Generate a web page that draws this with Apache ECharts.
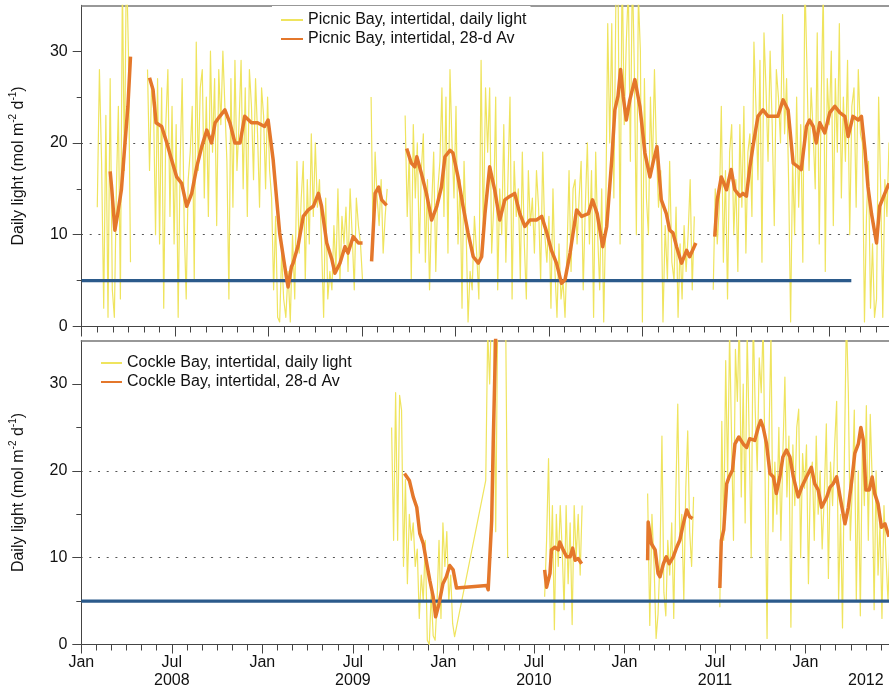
<!DOCTYPE html>
<html><head><meta charset="utf-8">
<script src="https://cdn.jsdelivr.net/npm/echarts@6/dist/echarts.min.js"></script>
<style>html,body{margin:0;padding:0;background:#fff}#c{width:889px;height:689px}</style>
</head><body><div id="c"></div>
<script>
// ---------------- DATA ----------------
const STEP_DAYS = 4; // daily-light samples read every 4 days

// Picnic Bay daily light (segments: start date + values every 4 days)
const picnicDailyStarts = ['2008-02-01','2008-05-08','2009-07-19','2009-09-24','2011-05-18'];
const picnicDailyA = [13,28,18,2,23,1,27,4,1,15,24,3,38,17,40,30,7];
const picnicDailyB = [28,17,26,24,10,27, 9,26,2,22,28,12,24,9, 22,1,18,27,11,3,16,19, 24,5,31,17,26,28,14,
  25,12,30,19,27,11,28,22, 30,24,18,3,27,13,29,17, 22,29,15,26,12,28,24, 16,27,21,13,26,23,15,25,
  17,14,4,12,1,0.5,8,3, 1,6,0.5,10,3,18,8, 14,18,5,16,9,21,12, 20,13,16,9,1,14,3,6,
  4,11,6,15,5,12,9,13, 6,15,10,4,14,11,9, 5];
const picnicDailyC = [25,9,19,14,11,16,8,12,15];
const picnicDailyD = [23,12, 19,5,22,14,20,8,17,21, 7,16,4,13,19,6,15, 18,26,12,25,8,28,20,14,
  24,9,16,2,18,11,0.5,6, 4,12,8,3,29,10,26, 19,26,8,13,25,4,15,10, 22,7,16,25,3,18,12,
  15,5,19,9,3,17,11,14, 8,17,13,5,19,10,7, 12,2,15,6,1,9,3,5, 1,8,17,6,15,16,9,14,
  18,4,13,20,9,17,1, 19,10,4,15,0.5,12,33,20, 33,14,36,38,9,40,22,31, 37,18,39,28,10,36,30,
  0.5,27,14,10,25,17,28,19, 13,17,0.5,11,5,18,7, 5,13,1,9,3,11,6,10, 16,4,12];
const picnicDailyE = [4,15,9,13, 24,7,17,3,19,22,10, 16,6,22,13,24,8,19,21, 12,31,24,16,29,7,32,26,
  18,30,22,11,28,25,20, 34,21,27,16,0.5,18,10,25, 13,22,7,38,28,17,26,21, 15,32,9,25,37,6,27,
  22,30,11,27,19,33,14,25, 18,29,10,24,26,13,28, 21,20,0.5,12,18,2,9,1, 3,25,15,1,16,12,20,14];
const picnicDailyConnect = [false,false,false,false,false];

// Picnic Bay 28-day average (segments of [date, value])
const picnicAvg = [
  [['2008-02-25',16.9],['2008-02-28',15],['2008-03-05',10.5],['2008-03-11',12.4],['2008-03-18',14.9],['2008-03-24',19.2],['2008-03-31',24],['2008-04-05',29.4]],
  [['2008-05-12',27.1],['2008-05-19',25.8],['2008-05-25',22.2],['2008-06-05',21.8],['2008-06-15',20],['2008-06-24',18.2],['2008-07-04',16.3],['2008-07-14',15.6],['2008-07-24',13.1],['2008-08-03',14.5],['2008-08-13',17.4],['2008-08-23',19.6],['2008-09-02',21.4],['2008-09-11',20],['2008-09-18',22.2],['2008-09-27',22.9],['2008-10-07',23.6],['2008-10-17',22.2],['2008-10-27',20],['2008-11-06',20],['2008-11-15',22.9],['2008-11-28',22.2],['2008-12-10',22.2],['2008-12-24',21.8],['2008-12-31',22.5],['2009-01-10',18.2],['2009-01-23',10.2],['2009-02-05',5.4],['2009-02-08',4.3],['2009-02-14',6.5],['2009-02-17',6.9],['2009-02-26',8.8],['2009-03-08',12],['2009-03-18',12.7],['2009-03-28',13.1],['2009-04-07',14.5],['2009-04-13',13.1],['2009-04-23',9.1],['2009-05-03',7.3],['2009-05-09',5.8],['2009-05-19',6.9],['2009-05-29',8.7],['2009-06-04',8],['2009-06-14',9.8],['2009-06-24',9.1],['2009-07-02',9.1]],
  [['2009-07-20',7.1],['2009-07-27',14.5],['2009-08-03',15.2],['2009-08-09',13.8],['2009-08-19',13.2]],
  [['2009-09-27',19.4],['2009-10-06',17.8],['2009-10-13',17.4],['2009-10-17',18.5],['2009-10-26',16.7],['2009-11-05',14.5],['2009-11-15',11.6],['2009-11-25',13.1],['2009-12-04',15.2],['2009-12-11',18.5],['2009-12-21',19.2],['2009-12-27',18.9],['2010-01-06',16.3],['2010-01-16',13.1],['2010-01-26',10.2],['2010-02-05',7.6],['2010-02-14',6.9],['2010-02-20',7.6],['2010-02-26',12.3],['2010-03-07',17.4],['2010-03-17',14.9],['2010-03-27',11.6],['2010-04-06',13.8],['2010-04-16',14.2],['2010-04-25',14.5],['2010-05-05',12.3],['2010-05-15',10.9],['2010-05-25',11.6],['2010-06-07',11.6],['2010-06-17',12],['2010-06-27',10.2],['2010-07-06',8.3],['2010-07-16',6.9],['2010-07-26',4.7],['2010-08-02',5.1],['2010-08-12',8],['2010-08-25',12.7],['2010-09-04',12],['2010-09-17',12.3],['2010-09-25',13.8],['2010-10-04',12.3],['2010-10-15',8.7],['2010-10-23',10.9],['2010-11-02',18.2],['2010-11-08',23.6],['2010-11-14',25.1],['2010-11-19',28],['2010-11-24',25.1],['2010-11-30',22.5],['2010-12-07',24.7],['2010-12-17',26.9],['2010-12-27',24],['2011-01-06',18.9],['2011-01-16',16.3],['2011-01-22',17.8],['2011-01-30',19.6],['2011-02-07',13.8],['2011-02-16',12.3],['2011-02-22',10.5],['2011-02-28',10.2],['2011-03-07',8.7],['2011-03-17',6.9],['2011-03-27',8.3],['2011-04-02',7.6],['2011-04-14',9.1]],
  [['2011-05-21',9.8],['2011-05-26',13.8],['2011-06-03',16.3],['2011-06-13',14.9],['2011-06-22',17.1],['2011-06-29',14.9],['2011-07-09',14.2],['2011-07-15',14.5],['2011-07-22',14.2],['2011-07-29',17.4],['2011-08-04',19.6],['2011-08-14',22.9],['2011-08-24',23.6],['2011-09-03',22.9],['2011-09-13',22.9],['2011-09-22',22.9],['2011-10-02',24.7],['2011-10-12',23.6],['2011-10-22',17.8],['2011-11-01',17.4],['2011-11-07',17.1],['2011-11-17',21.8],['2011-11-23',22.5],['2011-11-30',21.8],['2011-12-06',20],['2011-12-13',22.2],['2011-12-23',21.1],['2012-01-02',23.3],['2012-01-12',24],['2012-01-22',23.3],['2012-02-01',22.9],['2012-02-07',20.7],['2012-02-16',22.9],['2012-02-26',22.5],['2012-03-03',22.9],['2012-03-10',19.2],['2012-03-16',15.2],['2012-03-23',12.3],['2012-04-02',9.1],['2012-04-08',13.1],['2012-04-18',14.5],['2012-04-26',15.6]]
];

// Cockle Bay daily light
const cockleDailyStarts = ['2009-09-18','2010-03-26','2010-07-23','2011-02-16','2011-07-11'];
const cockleDaily1 = [25,12,29,12, 28.7,27,9,19,7,15,12, 14,9,11,3,8,5,12,0.5, 0,6,1,0.5,5,12,3,14, 9,13,5,8,2.4,0.9];
const cockleDaily1b = [18.9,36,30,40,37,13,38,42,36,40,37,10];
const cockleDaily2 = [5.5,12,21.4, 8,16,1.7,15,9,16,11, 4,16,7,14,2.3,16,10,15, 8,16];
const cockleDaily3 = [17.4,2.2,15,9, 0.7,3.5,10,24,6,3.3,12, 8,14,3,17,27.7,12,15,5, 18,24.6,13,9,17];
const cockleDaily4 = [4.3,25.7,12,32.7,19,36, 24,12,34,28,38,17,30, 14,36,24,10,38,27,20,33,
  29,37,19,0.7,24,36,13,21, 15,25,12,22,30.8,17,24, 2,23,16,25,27.1,10,22,18,
  23,7,19,21,12,24,15,20, 11,17,25.4,7.6,21,16,23, 28,5,15,1.9,22,38,29,12,
  18,27,5,20,3.3,23,16, 27.5,12,26.5,19,4,20,8,14, 3,16,10,5,12,15,9];
const cockleDailyConnect = [false,true,false,false,false];

// Cockle Bay 28-day average
const cockleAvg = [
  [['2009-10-14',19.7],['2009-10-24',18.9],['2009-11-01',17],['2009-11-08',15.8],['2009-11-14',12.8],['2009-11-21',11.6],['2009-11-28',9.3],['2009-12-04',7.4],['2009-12-11',5.5],['2009-12-16',3.2],['2009-12-23',4.7],['2009-12-31',7],['2010-01-07',7.8],['2010-01-14',9.1],['2010-01-21',8.6],['2010-01-28',6.5],['2010-03-28',6.8],['2010-03-31',6.3],['2010-04-07',14.3],['2010-04-10',23.1],['2010-04-15',35.5],['2010-04-22',40],['2010-05-10',42]],
  [['2010-07-23',8.6],['2010-07-27',6.6],['2010-08-03',8.2],['2010-08-06',10.9],['2010-08-13',11.2],['2010-08-20',10.9],['2010-08-23',11.8],['2010-08-30',10.9],['2010-09-06',10.1],['2010-09-13',10.1],['2010-09-18',11.1],['2010-09-23',9.7],['2010-09-29',9.9],['2010-10-06',9.3]],
  [['2011-02-16',9.7],['2011-02-17',14.1],['2011-02-23',11.6],['2011-03-02',10.9],['2011-03-08',8.2],['2011-03-12',7.8],['2011-03-19',9.3],['2011-03-25',10.1],['2011-03-31',9.3],['2011-04-08',10.1],['2011-04-15',11.2],['2011-04-21',12],['2011-04-28',13.9],['2011-05-05',15.5],['2011-05-11',14.7],['2011-05-17',14.5]],
  [['2011-07-11',6.5],['2011-07-14',12],['2011-07-19',13.2],['2011-07-25',18.5],['2011-07-30',19.3],['2011-08-06',20.1],['2011-08-11',23.1],['2011-08-19',23.9],['2011-08-28',23.1],['2011-09-04',22.7],['2011-09-10',23.7],['2011-09-20',23.5],['2011-09-27',25],['2011-10-02',25.8],['2011-10-07',25],['2011-10-14',23.1],['2011-10-21',19.7],['2011-10-28',19.3],['2011-11-03',17.4],['2011-11-10',19.3],['2011-11-16',21.6],['2011-11-23',22.4],['2011-11-30',21.6],['2011-12-07',19.3],['2011-12-17',17],['2011-12-24',18.1],['2012-01-03',19.3],['2012-01-13',20.4],['2012-01-20',18.5],['2012-01-27',17.8],['2012-02-03',15.8],['2012-02-13',17],['2012-02-19',18.1],['2012-02-25',18.5],['2012-03-03',19.3],['2012-03-10',17],['2012-03-20',13.9],['2012-03-27',15.8],['2012-04-03',18.9],['2012-04-09',22],['2012-04-16',23.1],['2012-04-21',25],['2012-04-26',23.5],['2012-05-01',17.8],['2012-05-08',17.8],['2012-05-14',19.3],['2012-05-19',17.4],['2012-05-26',16.2],['2012-06-02',13.5],['2012-06-09',13.9],['2012-06-17',12.4]]
];

// Threshold (5 mol m-2 d-1)
const thresholdValue = 5;
const picnicThresholdRange = ['2008-01-01','2012-02-13'];
const cockleThresholdRange = ['2008-01-01','2012-07-31'];

// Axis ticks / labels
const axisStart = '2008-01-01';
const picnicAxisEnd = '2012-04-26';
const cockleAxisEnd = '2012-06-17';
const monthLabelNames = ['Jan','Jul'];
const yearLabels = ['2008','2009','2010','2011','2012'];
const yearLabelDates = ['2008-07-01','2009-07-01','2010-07-01','2011-07-01','2012-05-01'];
const yMajorTicks = [0,10,20,30];
const yMinorTicks = [5,15,25];

const seriesNames = ['Picnic Bay, intertidal, daily light','Picnic Bay, intertidal, 28-d Av',
                     'Cockle Bay, intertidal, daily light','Cockle Bay, intertidal, 28-d Av'];

// ---------------- HELPERS ----------------
function parseDate(s){ const p=s.split('-').map(Number); return Date.UTC(p[0],p[1]-1,p[2]); }
function monthPos(t){
  const d=new Date(t), y=d.getUTCFullYear(), m=d.getUTCMonth(), day=d.getUTCDate();
  const dim=new Date(Date.UTC(y,m+1,0)).getUTCDate();
  return (y-2008)*12+m+(day-1)/dim;
}
const mp = s => monthPos(parseDate(s));
function dailyData(starts, segs, connect){
  const out=[];
  segs.forEach((vals,k)=>{
    if(k>0 && !connect[k] && out.length) out.push([out[out.length-1][0],'-']);
    const t0=parseDate(starts[k]);
    vals.forEach((v,i)=>out.push([monthPos(t0+i*STEP_DAYS*86400000), v]));
  });
  return out;
}
function avgData(segs){
  const out=[];
  segs.forEach((seg,k)=>{
    if(k>0) out.push([out[out.length-1][0],'-']);
    seg.forEach(p=>out.push([mp(p[0]),p[1]]));
  });
  return out;
}
const xMin = mp(axisStart);
const xMaxTop = mp(picnicAxisEnd);
const xMaxBot = mp(cockleAxisEnd);
const majorMonths=[], minorMonths=[];
for(let m=0;m<=54;m++){ if(m%6===0) majorMonths.push(m); else minorMonths.push(m); }
const yearPos = yearLabelDates.map(mp);

// ---------------- STYLE ----------------
const FONT='"Liberation Sans", Arial, Helvetica, sans-serif';
const TXT='#111';
const AX='#444';
const YELLOW='#EFE45E', ORANGE='#E4772B', BLUE='#2B5A8B';
const grids=[
  {left:81.7, right:0, top:5.3, bottom:689-326.5},
  {left:81.3, right:0, top:340.6, bottom:689-644.5}
];

function xAxesFor(gi, max, withLabels){
  const base={gridIndex:gi, type:'value', min:xMin, max:max, splitLine:{show:false}};
  const list=[
    Object.assign({}, base, {position:'bottom',
      axisLine:{show:true,onZero:false,lineStyle:{color:AX,width:1}},
      axisTick:{show:true,customValues:majorMonths,length:withLabels?9:10,lineStyle:{color:AX,width:1}},
      axisLabel:withLabels?{show:true,customValues:majorMonths,margin:10,fontSize:16,fontFamily:FONT,color:TXT,
        formatter:v=>monthLabelNames[(Math.round(v)%12===0)?0:1]}:{show:false}}),
    Object.assign({}, base, {position:'bottom',
      axisLine:{show:false,onZero:false},
      axisTick:{show:true,customValues:minorMonths,length:6,lineStyle:{color:AX,width:1}},
      axisLabel:{show:false}}),
    Object.assign({}, base, {position:'top',
      axisLine:{show:true,onZero:false,lineStyle:{color:'#777',width:1.5}},
      axisTick:{show:false}, axisLabel:{show:false}})
  ];
  if(withLabels){
    list.push(Object.assign({}, base, {position:'bottom',
      axisLine:{show:false,onZero:false}, axisTick:{show:false},
      axisLabel:{show:true,customValues:yearPos,margin:28,fontSize:16,fontFamily:FONT,color:TXT,
        formatter:v=>{let best=0;yearPos.forEach((p,i)=>{if(Math.abs(p-v)<Math.abs(yearPos[best]-v))best=i;});return yearLabels[best];}}}));
  }
  return list;
}
const nameRich={
  a:{fontSize:16,fontFamily:FONT,color:TXT,lineHeight:20},
  s:{fontSize:10,fontFamily:FONT,color:TXT,verticalAlign:'top',lineHeight:12}
};
function yAxesFor(gi){
  return [
    {gridIndex:gi,type:'value',min:0,max:35,interval:10,position:'left',
     axisLine:{show:true,onZero:false,lineStyle:{color:AX,width:1}},
     axisTick:{show:true,customValues:yMajorTicks,length:9,lineStyle:{color:AX}},
     axisLabel:{show:true,customValues:yMajorTicks,margin:14,fontSize:16,fontFamily:FONT,color:TXT},
     splitLine:{show:true,showMinLine:false,showMaxLine:false,lineStyle:{color:'#555',width:1,type:[2,6.7],dashOffset:-8}},
     name:'{a|Daily light (mol m}{s|-2}{a| d}{s|-1}{a|)}',nameLocation:'middle',nameRotate:90,nameGap:53,
     nameTextStyle:{fontSize:16,fontFamily:FONT,color:TXT,rich:nameRich}},
    {gridIndex:gi,type:'value',min:0,max:35,position:'left',
     axisLine:{show:false,onZero:false},
     axisTick:{show:true,customValues:yMinorTicks,length:5,lineStyle:{color:AX}},
     axisLabel:{show:false},splitLine:{show:false}}
  ];
}
const xAxes=[...xAxesFor(0,xMaxTop,false), ...xAxesFor(1,xMaxBot,true)];
const yAxes=[...yAxesFor(0), ...yAxesFor(1)];
const botX = 3; // index of first bottom x axis

function lineSeries(name, data, xi, yi, color, width, z){
  return {name:name,type:'line',xAxisIndex:xi,yAxisIndex:yi,data:data,symbol:'none',showSymbol:false,
    clip:true,connectNulls:false,z:z,animation:false,silent:true,
    lineStyle:{color:color,width:width,join:'round'},itemStyle:{color:color}};
}
const series=[
  lineSeries(seriesNames[0], dailyData(picnicDailyStarts,[picnicDailyA,picnicDailyB,picnicDailyC,picnicDailyD,picnicDailyE],picnicDailyConnect),0,0,YELLOW,1.2,2),
  lineSeries('thrTop', picnicThresholdRange.map(s=>[mp(s),thresholdValue]),0,0,BLUE,3.3,3),
  lineSeries(seriesNames[1], avgData(picnicAvg),0,0,ORANGE,3.5,4),
  lineSeries(seriesNames[2], dailyData(cockleDailyStarts,[cockleDaily1,cockleDaily1b,cockleDaily2,cockleDaily3,cockleDaily4],cockleDailyConnect),botX,2,YELLOW,1.2,2),
  lineSeries('thrBot', cockleThresholdRange.map(s=>[mp(s),thresholdValue]),botX,2,BLUE,3.3,3),
  lineSeries(seriesNames[3], avgData(cockleAvg),botX,2,ORANGE,3.5,4)
];

const legendCommon={orient:'vertical',itemGap:3,itemHeight:14,selectedMode:false,
  textStyle:{fontSize:16,fontFamily:FONT,color:TXT},itemStyle:{opacity:0}};
const option={
  animation:false,
  backgroundColor:'#fff',
  grid:grids,
  xAxis:xAxes,
  yAxis:yAxes,
  legend:[
    Object.assign({},legendCommon,{data:[seriesNames[0],seriesNames[1]],left:272,top:6,itemWidth:22,
      padding:[6,4,7,8],backgroundColor:'#fff'}),
    Object.assign({},legendCommon,{data:[seriesNames[2],seriesNames[3]],left:100,top:355,itemWidth:21,padding:0})
  ],
  series:series
};
const chart=echarts.init(document.getElementById('c'),null,{renderer:'canvas'});
chart.setOption(option);
</script></body></html>
